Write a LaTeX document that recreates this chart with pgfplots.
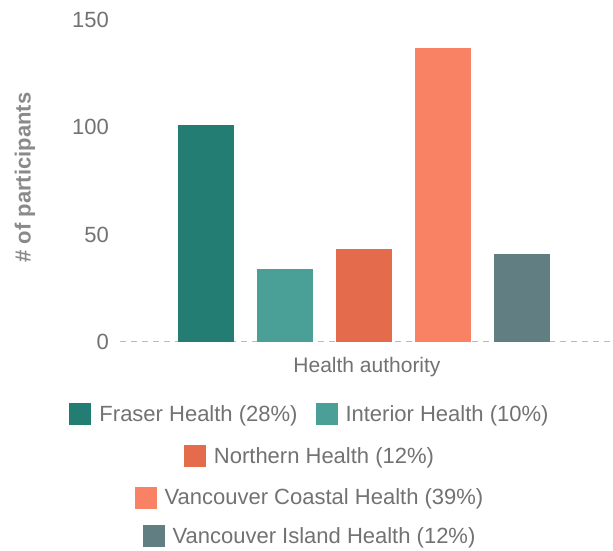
\documentclass[border=0pt]{standalone}
\usepackage{fontspec}
\setmainfont{Liberation Sans}
\usepackage{pgfplots}
\pgfplotsset{compat=1.18}
\definecolor{cFraser}{HTML}{237D72}
\definecolor{cInterior}{HTML}{4AA097}
\definecolor{cNorthern}{HTML}{E56B4D}
\definecolor{cVC}{HTML}{F98164}
\definecolor{cVI}{HTML}{617E82}
\definecolor{txt}{HTML}{727272}
\definecolor{ylab}{HTML}{8A8A8A}
\definecolor{base}{HTML}{BBBBBB}
\pgfplotsset{
  legaxis/.style={hide axis, scale only axis, width=1bp, height=1bp,
    xmin=0, xmax=1, ymin=0, ymax=1, anchor=center,
    legend image code/.code={\fill[##1, draw=none] (0bp,-11bp) rectangle (22bp,11bp);},
    legend style={at={(0.5,0.5)}, anchor=center, draw=none, fill=none,
      font=\fontsize{22bp}{26bp}\selectfont, text=txt, legend columns=-1,
      /tikz/every odd column/.append style={column sep=6bp},
      /tikz/every even column/.append style={column sep=16bp}}
  }
}
\begin{document}
\begin{tikzpicture}
\path[use as bounding box] (-120bp,-209.3bp) rectangle (493bp,341.7bp);
\begin{axis}[
  scale only axis, width=493bp, height=321.7bp,
  xmin=-1.09, xmax=5.15, ymin=0, ymax=150,
  ytick={0,50,100,150}, xtick=\empty,
  axis lines*=left,
  x axis line style={draw=base, line width=1.3bp, dash pattern=on 6bp off 5bp},
  y axis line style={draw=none},
  major tick length=0pt,
  /pgf/number format/assume math mode=true,
  yticklabel style={font=\fontsize{22bp}{26bp}\selectfont, text=txt, anchor=east, inner sep=0pt, xshift=-11bp},
  every axis x label/.style={at={(axis description cs:0.501,-0.078)}, anchor=center,
    font=\fontsize{21bp}{25bp}\selectfont, text=txt},
  every axis y label/.style={at={(axis description cs:-0.193,0.51)}, rotate=90, anchor=center,
    font=\bfseries\fontsize{22bp}{26bp}\selectfont, text=ylab},
  xlabel={Health authority},
  ylabel={\# of participants},
]
\addplot[ybar, bar width=56bp, bar shift=0pt, fill=cFraser, draw=none] coordinates {(0,101)};
\addplot[ybar, bar width=56bp, bar shift=0pt, fill=cInterior, draw=none] coordinates {(1,34)};
\addplot[ybar, bar width=56bp, bar shift=0pt, fill=cNorthern, draw=none] coordinates {(2,43)};
\addplot[ybar, bar width=56bp, bar shift=0pt, fill=cVC, draw=none] coordinates {(3,137)};
\addplot[ybar, bar width=56bp, bar shift=0pt, fill=cVI, draw=none] coordinates {(4,41)};
\end{axis}
\begin{axis}[legaxis, at={(190bp,-72.3bp)}]
\addlegendimage{fill=cFraser}\addlegendentry{Fraser Health (28\%)}
\addlegendimage{fill=cInterior}\addlegendentry{Interior Health (10\%)}
\end{axis}
\begin{axis}[legaxis, at={(190bp,-114.3bp)}]
\addlegendimage{fill=cNorthern}\addlegendentry{Northern Health (12\%)}
\end{axis}
\begin{axis}[legaxis, at={(190bp,-155.8bp)}]
\addlegendimage{fill=cVC}\addlegendentry{Vancouver Coastal Health (39\%)}
\end{axis}
\begin{axis}[legaxis, at={(190bp,-194.3bp)}]
\addlegendimage{fill=cVI}\addlegendentry{Vancouver Island Health (12\%)}
\end{axis}
\end{tikzpicture}
\end{document}
